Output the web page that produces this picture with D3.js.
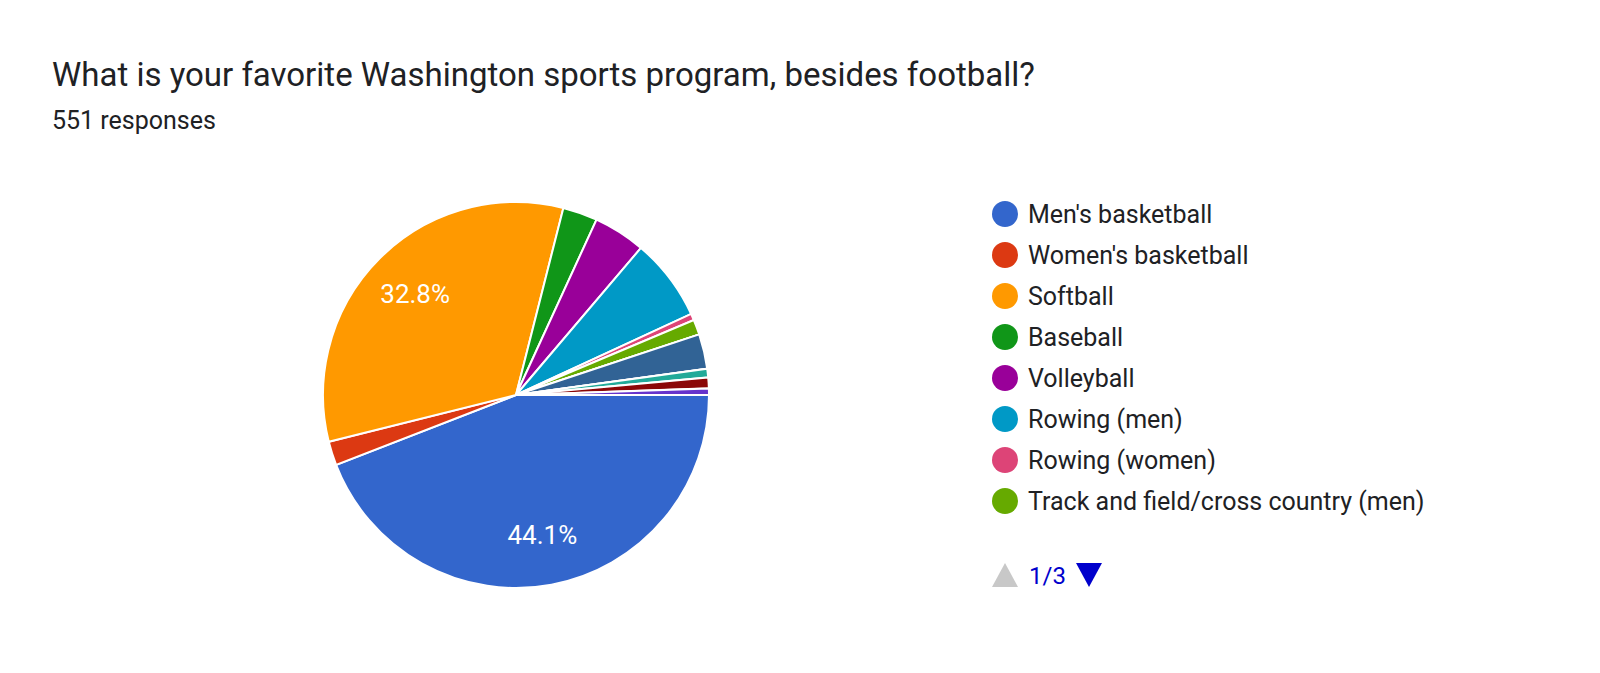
<!DOCTYPE html>
<html><head><meta charset="utf-8">
<script src="https://cdn.jsdelivr.net/npm/d3@7"></script>
<style>body{margin:0;background:#fff;font-family:Roboto,Arial,sans-serif}</style>
</head><body>
<svg id="chart" width="1600" height="673"></svg>
<script>
var categories = ["Men's basketball","Women's basketball","Softball","Baseball","Volleyball",
  "Rowing (men)","Rowing (women)","Track and field/cross country (men)",
  "Track and field/cross country (women)","Soccer (men)","Soccer (women)","Golf (men)","Golf (women)","Tennis"];
var counts = [243, 11, 181, 16, 24, 38, 3, 7, 0, 16, 0, 4, 5, 3];
var colors = ["#3366cc","#dc3912","#ff9900","#109618","#990099","#0099c6","#dd4477","#66aa00",
  "#b82e2e","#316395","#994499","#22aa99","#8b0707","#6633cc"];
var total = 551;

var svg = d3.select("#chart");
svg.append("text").attr("x", 52).attr("y", 86).attr("font-size", 33).attr("fill", "#202124")
  .text("What is your favorite Washington sports program, besides football?");
svg.append("text").attr("x", 52).attr("y", 129).attr("font-size", 25).attr("fill", "#202124")
  .text(total + " responses");

var cx = 516, cy = 395, r = 193;
var data = categories.map((c, i) => ({name: c, value: counts[i], color: colors[i]}));
var pie = d3.pie().sort(null).value(d => d.value)
  .startAngle(Math.PI / 2).endAngle(Math.PI / 2 + 2 * Math.PI);
var arc = d3.arc().innerRadius(0).outerRadius(r);
var labelArc = d3.arc().innerRadius(r * 0.74).outerRadius(r * 0.74);

var g = svg.append("g").attr("transform", "translate(" + cx + "," + cy + ")");
var arcs = pie(data);
g.selectAll("path").data(arcs).enter().append("path")
  .attr("d", arc).attr("fill", d => d.data.color)
  .attr("stroke", "#fff").attr("stroke-width", 2);
g.selectAll("text").data(arcs.filter(d => d.data.value / total > 0.1)).enter().append("text")
  .attr("transform", d => "translate(" + labelArc.centroid(d) + ")")
  .attr("text-anchor", "middle").attr("dy", "0.35em")
  .attr("fill", "#fff").attr("font-size", 26)
  .text(d => (d.data.value / total * 100).toFixed(1) + "%");

// legend, first page of 8
var legend = svg.append("g").selectAll("g").data(data.slice(0, 8)).enter().append("g")
  .attr("transform", (d, i) => "translate(1005," + (214 + i * 41) + ")");
legend.append("circle").attr("r", 13).attr("fill", d => d.color);
legend.append("text").attr("x", 23).attr("dy", "0.35em").attr("font-size", 25).attr("fill", "#202124")
  .text(d => d.name);

svg.append("path").attr("d", "M992,587 L1018,587 L1005,563 Z").attr("fill", "#c8c8c8");
svg.append("text").attr("x", 1029).attr("y", 584).attr("font-size", 24).attr("fill", "#0000cc").text("1/3");
svg.append("path").attr("d", "M1076,563 L1102,563 L1089,587 Z").attr("fill", "#0000cc");
</script>
</body></html>
